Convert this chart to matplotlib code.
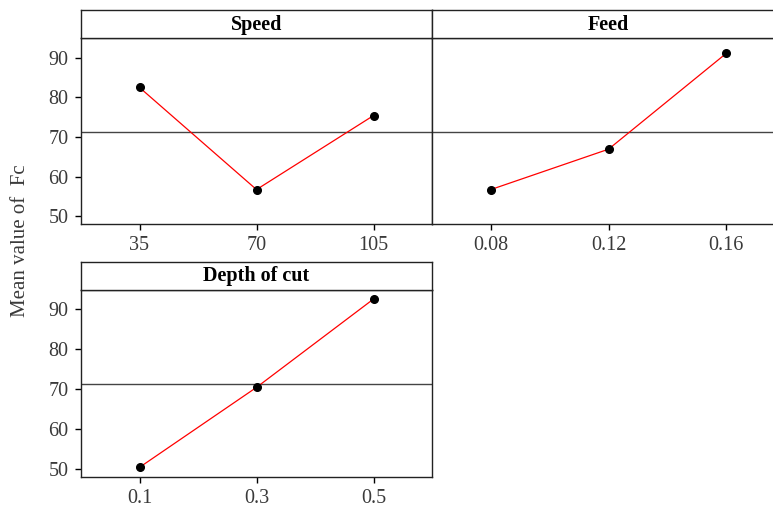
import numpy as np
import matplotlib
matplotlib.use("Agg")
import matplotlib.pyplot as plt

# main effects data (mean of Fc at each level)
factors = ["Speed", "Feed", "Depth of cut"]
speed_levels = ["35", "70", "105"]
speed_means = [82.5, 56.7, 75.4]
feed_levels = ["0.08", "0.12", "0.16"]
feed_means = [56.7, 66.9, 91.1]
doc_levels = ["0.1", "0.3", "0.5"]
doc_means = [50.3, 70.4, 92.6]
grand_mean = 71.3
y_ticks = [50, 60, 70, 80, 90]

plt.rcParams["font.family"] = ["Liberation Serif", "DejaVu Serif"]

W, H = 773, 509
fig = plt.figure(figsize=(W / 100, H / 100), dpi=100)


def px(left, top, right, bottom):
    return [left / W, 1 - bottom / H, (right - left) / W, (bottom - top) / H]


def panel(box, strip_top, title, levels, means, show_y):
    left, top, right, bottom = box
    ax = fig.add_axes(px(left, top, right, bottom))
    st = fig.add_axes(px(left, strip_top, right, top))
    st.set_xticks([])
    st.set_yticks([])
    for s in st.spines.values():
        s.set_linewidth(1.0)
        s.set_color("#222222")
    st.text(0.5, 0.48, title, ha="center", va="center", fontsize=14.5,
            fontweight="bold", color="black", transform=st.transAxes)

    x = np.arange(len(levels))
    ax.axhline(grand_mean, color="#444444", lw=1.0, zorder=1)
    ax.plot(x, means, color="red", lw=0.9, zorder=2)
    ax.plot(x, means, "o", color="black", ms=5.5, zorder=3)
    ax.set_xlim(-0.5, len(levels) - 0.5)
    ax.set_ylim(48, 95)
    ax.set_xticks(x)
    ax.set_xticklabels(levels)
    ax.set_yticks(y_ticks)
    for s in ax.spines.values():
        s.set_linewidth(1.0)
        s.set_color("#222222")
    ax.tick_params(axis="x", direction="out", length=4, width=1, pad=5,
                   labelsize=14.5, labelcolor="#3a3a3a")
    ax.tick_params(axis="y", direction="out", length=4, width=1, pad=5,
                   labelsize=14.5, labelcolor="#3a3a3a")
    if not show_y:
        ax.tick_params(axis="y", left=False, labelleft=False)
    return ax


panel((81, 38, 432, 224), 10, factors[0], speed_levels, speed_means, True)
panel((432, 38, 785, 224), 10, factors[1], feed_levels, feed_means, False)
panel((81, 289.5, 432, 476.5), 262, factors[2], doc_levels, doc_means, True)

fig.text(21 / W, 1 - 241 / H, "Mean value of  Fc", rotation=90, ha="center",
         va="center", fontsize=15, color="#3a3a3a")

fig.savefig("out.png", dpi=100)
